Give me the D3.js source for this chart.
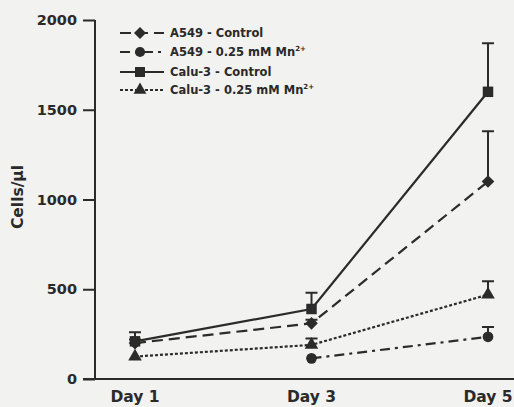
<!DOCTYPE html>
<html>
<head>
<meta charset="utf-8">
<script src="https://cdn.jsdelivr.net/npm/d3@7"></script>
<style>
  body { margin: 0; background: #f2f2f0; }
  svg { display: block; }
  text { font-family: "DejaVu Sans", sans-serif; font-weight: bold; fill: #2a2a2a; }
</style>
</head>
<body>
<svg id="chart" width="514" height="407"></svg>
<script>
var days = ["Day 1", "Day 3", "Day 5"];
var yTicks = [0, 500, 1000, 1500, 2000];

// means and error (upper bar only)
var a549Control = [200, 310, 1100];
var a549ControlErr = [20, 20, 280];
var a549Mn = [null, 115, 235];
var a549MnErr = [0, 0, 55];
var caluControl = [210, 390, 1600];
var caluControlErr = [50, 90, 270];
var caluMn = [125, 190, 470];
var caluMnErr = [0, 35, 75];

var series = [
    { name: "A549 - Control", sup: "", values: a549Control, err: a549ControlErr, dash: "11,6", symbol: d3.symbolSquare, rot: 45, size: 80 },
    { name: "A549 - 0.25 mM Mn", sup: "2+", values: a549Mn, err: a549MnErr, dash: "10,5,3,5", symbol: d3.symbolCircle, rot: 0, size: 90 },
    { name: "Calu-3 - Control", sup: "", values: caluControl, err: caluControlErr, dash: null, symbol: d3.symbolSquare, rot: 0, size: 110 },
    { name: "Calu-3 - 0.25 mM Mn", sup: "2+", values: caluMn, err: caluMnErr, dash: "3,2", symbol: d3.symbolTriangle, rot: 0, size: 80 }
];

var ink = "#2b2b2b";
var svg = d3.select("#chart");

var x = d3.scalePoint().domain(days).range([135, 488]);
var y = d3.scaleLinear().domain([0, 2000]).range([379, 20]);

// y axis
var yAxis = svg.append("g")
    .attr("transform", "translate(95,0)")
    .call(d3.axisLeft(y).tickValues(yTicks).tickFormat(d3.format("d")).tickSize(12).tickPadding(6));
yAxis.select(".domain").attr("d", "M0," + y(2000) + "V" + y(0))
    .attr("stroke", ink).attr("stroke-width", 2);
yAxis.selectAll(".tick line").attr("stroke", ink).attr("stroke-width", 2);
yAxis.selectAll(".tick text").attr("font-size", 14.5).attr("fill", ink);

// x axis line
svg.append("line")
    .attr("x1", 83).attr("x2", 514)
    .attr("y1", y(0)).attr("y2", y(0))
    .attr("stroke", ink).attr("stroke-width", 2);

svg.selectAll(".day")
    .data(days)
    .enter().append("text")
    .attr("class", "day")
    .attr("x", function(d) { return x(d); })
    .attr("y", 402)
    .attr("text-anchor", "middle")
    .attr("font-size", 15.5)
    .text(function(d) { return d; });

svg.append("text")
    .attr("transform", "translate(23,197) rotate(-90)")
    .attr("text-anchor", "middle")
    .attr("font-size", 15.5)
    .text("Cells/\u00b5l");

var line = d3.line()
    .defined(function(d) { return d.v != null; })
    .x(function(d) { return x(d.day); })
    .y(function(d) { return y(d.v); });

series.forEach(function(s) {
    var pts = days.map(function(day, i) {
        return { day: day, v: s.values[i], e: s.err[i] };
    });
    var g = svg.append("g");

    g.append("path")
        .datum(pts)
        .attr("d", line)
        .attr("fill", "none")
        .attr("stroke", ink)
        .attr("stroke-width", 2.2)
        .attr("stroke-dasharray", s.dash);

    var valid = pts.filter(function(d) { return d.v != null && d.e > 0; });
    g.selectAll(".eb")
        .data(valid)
        .enter().append("path")
        .attr("d", function(d) {
            var cx = x(d.day), top = y(d.v + d.e);
            return "M" + cx + "," + y(d.v) + "V" + top + "M" + (cx - 6) + "," + top + "H" + (cx + 6);
        })
        .attr("stroke", ink)
        .attr("stroke-width", 2)
        .attr("fill", "none");

    g.selectAll(".pt")
        .data(pts.filter(function(d) { return d.v != null; }))
        .enter().append("path")
        .attr("d", d3.symbol().type(s.symbol).size(s.size))
        .attr("transform", function(d) { return "translate(" + x(d.day) + "," + y(d.v) + ") rotate(" + s.rot + ")"; })
        .attr("fill", ink);
});

// legend
var legendY = [33, 52, 72, 90];
var legend = svg.append("g");
series.forEach(function(s, i) {
    var row = legend.append("g").attr("transform", "translate(120," + legendY[i] + ")");
    row.append("line")
        .attr("x1", 0).attr("x2", 44)
        .attr("stroke", ink)
        .attr("stroke-width", 2.2)
        .attr("stroke-dasharray", s.dash);
    row.append("path")
        .attr("d", d3.symbol().type(s.symbol).size(s.size * 0.9))
        .attr("transform", "translate(20,0) rotate(" + s.rot + ")")
        .attr("fill", ink);
    var t = row.append("text")
        .attr("x", 50)
        .attr("y", 4)
        .attr("font-size", 11.5)
        .text(s.name);
    if (s.sup) {
        t.append("tspan")
            .attr("dy", -5)
            .attr("font-size", 7)
            .text(s.sup);
    }
});
</script>
</body>
</html>
